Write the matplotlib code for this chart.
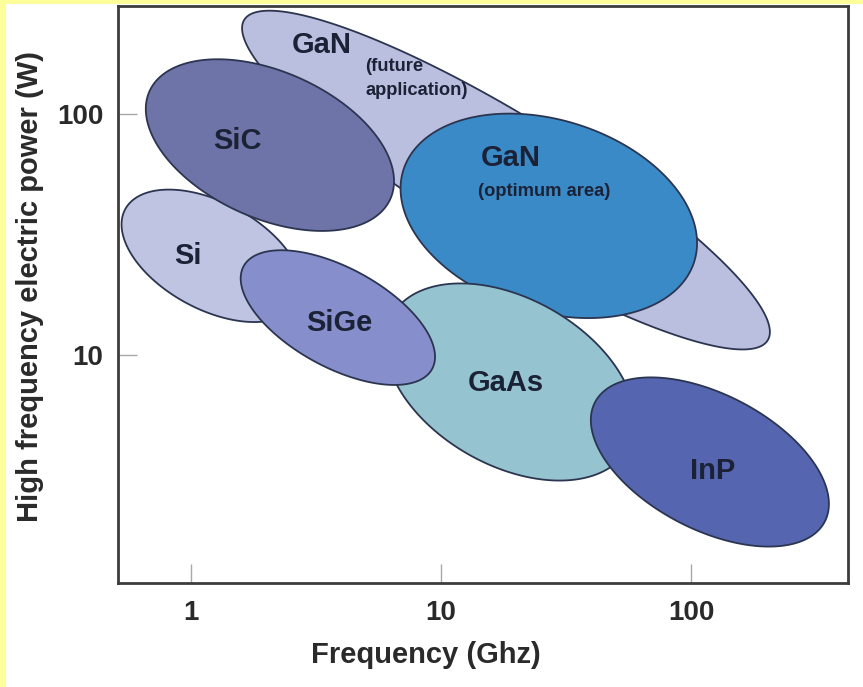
import matplotlib.pyplot as plt
import numpy as np
from matplotlib.patches import Rectangle

# semiconductor regions on the frequency / power plane
# (drawn back to front)
materials = ['GaN', 'Si', 'SiC', 'GaN', 'GaAs', 'SiGe', 'InP']
notes = ['(future\napplication)', '', '', '(optimum area)', '', '', '']
freq_center = [18.2, 1.21, 2.07, 27.0, 18.9, 3.87, 119.0]     # GHz
power_center = [53.2, 25.8, 74.3, 37.8, 7.73, 14.3, 3.60]     # W
major_dec = [1.24, 0.396, 0.531, 0.612, 0.547, 0.433, 0.522]   # half axes, in decades
minor_dec = [0.265, 0.220, 0.302, 0.396, 0.343, 0.204, 0.278]
tilt_deg = [-32.5, -30.0, -25.6, -19.0, -31.5, -30.0, -29.0]

# where the names go
label_freq = [3.34, 0.973, 1.54, 19.05, 18.2, 3.91, 122.5]
label_power = [193.0, 25.8, 77.3, 65.6, 7.66, 13.6, 3.31]
note_freq = [4.97, None, None, 25.8, None, None, None]
note_power = [140.0, None, None, 47.9, None, None, None]

fills = ['#bbbfdf', '#bec4e2', '#6e74a8', '#3a8ac8', '#95c3d0', '#868fcb', '#5565b0']
edge = '#2b3550'
ink = '#1c2236'

fig = plt.figure(figsize=(8.63, 6.87), dpi=100)
fig.patch.set_facecolor('white')

# yellow page border along the top and left
fig.patches.append(Rectangle((0, 0), 6 / 863, 1, transform=fig.transFigure,
                             facecolor='#fdfd9a', edgecolor='none', zorder=0))
fig.patches.append(Rectangle((0, 1 - 4 / 687), 1, 4 / 687, transform=fig.transFigure,
                             facecolor='#fdfd9a', edgecolor='none', zorder=0))

ax = fig.add_axes([118 / 863, 1 - 583 / 687, 730 / 863, 577 / 687])
ax.set_xscale('log')
ax.set_yscale('log')
ax.set_xlim(0.511, 424.6)
ax.set_ylim(1.133, 280.6)

t = np.linspace(0, 2 * np.pi, 400)
for i in range(len(materials)):
    th = np.radians(tilt_deg[i])
    lx = (np.log10(freq_center[i]) + major_dec[i] * np.cos(t) * np.cos(th)
          - minor_dec[i] * np.sin(t) * np.sin(th))
    ly = (np.log10(power_center[i]) + major_dec[i] * np.cos(t) * np.sin(th)
          + minor_dec[i] * np.sin(t) * np.cos(th))
    ax.fill(10 ** lx, 10 ** ly, facecolor=fills[i], edgecolor=edge,
            linewidth=1.3, zorder=2 + i)
    ax.text(label_freq[i], label_power[i], materials[i], ha='center', va='center',
            fontsize=21, fontweight='bold', color=ink, family='Liberation Sans',
            zorder=20)
    if notes[i]:
        ha = 'left' if '\n' in notes[i] else 'center'
        ax.text(note_freq[i], note_power[i], notes[i], ha=ha, va='center',
                fontsize=13.2, fontweight='bold', color=ink, linespacing=1.55,
                family='Liberation Sans', zorder=20)

ax.set_xticks([1, 10, 100])
ax.set_xticklabels(['1', '10', '100'])
ax.set_yticks([10, 100])
ax.set_yticklabels(['10', '100'])
ax.minorticks_off()
ax.tick_params(direction='in', length=14, width=1, color='#a8a8a8',
               labelsize=20, labelcolor='#2a2a2a', top=False, right=False)
ax.tick_params(axis='x', pad=12)
ax.tick_params(axis='y', pad=10.5)
for lbl in ax.get_xticklabels() + ax.get_yticklabels():
    lbl.set_fontweight('bold')
    lbl.set_family('Liberation Sans')

for s in ax.spines.values():
    s.set_color('#3c3c3c')
    s.set_linewidth(2)

fig.text(426 / 863, 1 - 663 / 687, 'Frequency (Ghz)', ha='center', va='baseline',
         fontsize=21, fontweight='bold', color='#2a2a2a', family='Liberation Sans')
fig.text(30 / 863, 1 - 286 / 687, 'High frequency electric power (W)', rotation=90,
         ha='center', va='center', fontsize=21, fontweight='bold', color='#2a2a2a',
         family='Liberation Sans')

fig.savefig('out.png', dpi=100)
